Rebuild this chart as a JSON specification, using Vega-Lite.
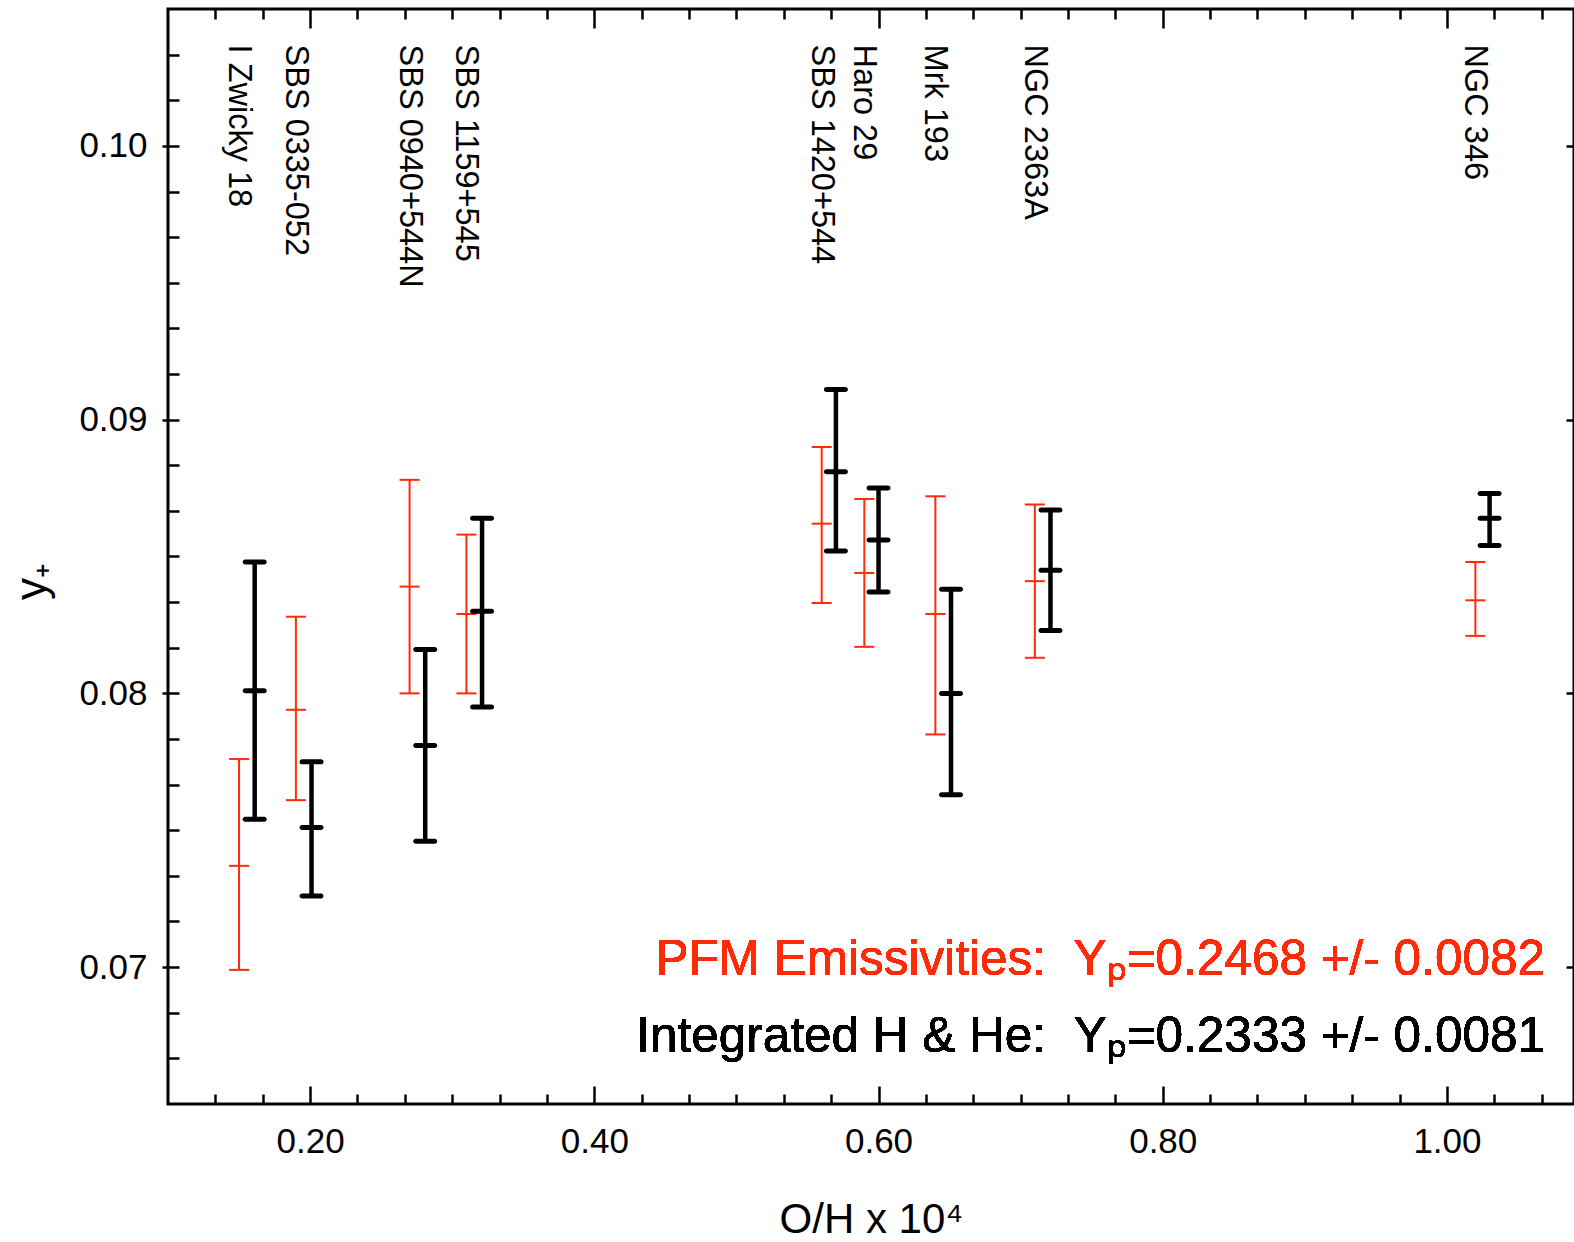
{
  "$schema": "https://vega.github.io/schema/vega-lite/v6.json",
  "width": 1406,
  "height": 1095,
  "autosize": {"type": "none"},
  "padding": {"left": 168, "top": 9, "right": 0, "bottom": 138},
  "background": "white",
  "config": {
    "font": "Liberation Sans",
    "view": {"stroke": "black", "strokeWidth": 3},
    "axis": {"grid": false, "domain": false, "labelColor": "black", "titleColor": "black", "tickColor": "black", "tickWidth": 2.5, "labelFont": "Liberation Sans", "titleFont": "Liberation Sans", "titleFontWeight": "normal", "labelFlush": false, "labelOverlap": false}
  },
  "datasets": {
    "pts": [
      {"galaxy": "I Zwicky 18", "method": "PFM", "x": 0.150, "y": 0.0737, "lo": 0.0699, "hi": 0.0776},
      {"galaxy": "I Zwicky 18", "method": "Integrated", "x": 0.161, "y": 0.0801, "lo": 0.0754, "hi": 0.0848},
      {"galaxy": "SBS 0335-052", "method": "PFM", "x": 0.190, "y": 0.0794, "lo": 0.0761, "hi": 0.0828},
      {"galaxy": "SBS 0335-052", "method": "Integrated", "x": 0.201, "y": 0.0751, "lo": 0.0726, "hi": 0.0775},
      {"galaxy": "SBS 0940+544N", "method": "PFM", "x": 0.270, "y": 0.0839, "lo": 0.0800, "hi": 0.0878},
      {"galaxy": "SBS 0940+544N", "method": "Integrated", "x": 0.281, "y": 0.0781, "lo": 0.0746, "hi": 0.0816},
      {"galaxy": "SBS 1159+545", "method": "PFM", "x": 0.310, "y": 0.0829, "lo": 0.0800, "hi": 0.0858},
      {"galaxy": "SBS 1159+545", "method": "Integrated", "x": 0.321, "y": 0.0830, "lo": 0.0795, "hi": 0.0864},
      {"galaxy": "SBS 1420+544", "method": "PFM", "x": 0.560, "y": 0.0862, "lo": 0.0833, "hi": 0.0890},
      {"galaxy": "SBS 1420+544", "method": "Integrated", "x": 0.570, "y": 0.0881, "lo": 0.0852, "hi": 0.0911},
      {"galaxy": "Haro 29", "method": "PFM", "x": 0.590, "y": 0.0844, "lo": 0.0817, "hi": 0.0871},
      {"galaxy": "Haro 29", "method": "Integrated", "x": 0.600, "y": 0.0856, "lo": 0.0837, "hi": 0.0875},
      {"galaxy": "Mrk 193", "method": "PFM", "x": 0.640, "y": 0.0829, "lo": 0.0785, "hi": 0.0872},
      {"galaxy": "Mrk 193", "method": "Integrated", "x": 0.651, "y": 0.0800, "lo": 0.0763, "hi": 0.0838},
      {"galaxy": "NGC 2363A", "method": "PFM", "x": 0.710, "y": 0.0841, "lo": 0.0813, "hi": 0.0869},
      {"galaxy": "NGC 2363A", "method": "Integrated", "x": 0.721, "y": 0.0845, "lo": 0.0823, "hi": 0.0867},
      {"galaxy": "NGC 346", "method": "PFM", "x": 1.020, "y": 0.0834, "lo": 0.0821, "hi": 0.0848},
      {"galaxy": "NGC 346", "method": "Integrated", "x": 1.030, "y": 0.0864, "lo": 0.0854, "hi": 0.0873}
    ]
  },
  "data": {"name": "pts"},
  "layer": [
    {
      "transform": [{"filter": "datum.method === 'PFM'"}],
      "mark": {"type": "rule", "color": "#ff2a08", "strokeWidth": 2},
      "encoding": {
        "x": {"field": "x", "type": "quantitative", "scale": {"domain": [0.1, 1.0894], "nice": false, "zero": false},
          "axis": {"orient": "bottom", "values": [0.2, 0.4, 0.6, 0.8, 1.0], "format": ".2f", "tickSize": -18, "labelFontSize": 35, "labelPadding": 38, "title": "O/H x 10⁴", "titleFontSize": 42, "titlePadding": 40}},
        "y": {"field": "lo", "type": "quantitative", "scale": {"domain": [0.065, 0.105], "nice": false, "zero": false},
          "axis": {"orient": "left", "values": [0.07, 0.08, 0.09, 0.10], "format": ".2f", "tickSize": -11, "labelFontSize": 35, "labelPadding": 32, "title": "y₊", "titleFontSize": 44, "titlePadding": 24, "titleY": 572}},
        "y2": {"field": "hi"}
      }
    },
    {
      "transform": [{"filter": "datum.method === 'PFM'"}, {"fold": ["lo", "hi", "y"], "as": ["k", "v"]}],
      "mark": {"type": "tick", "orient": "horizontal", "color": "#ff2a08", "opacity": 1, "thickness": 2, "size": 20},
      "encoding": {
        "x": {"field": "x", "type": "quantitative", "scale": {"domain": [0.1, 1.0894], "nice": false, "zero": false},
          "axis": {"orient": "bottom", "values": [0.13333, 0.16667, 0.23333, 0.26667, 0.3, 0.33333, 0.36667, 0.43333, 0.46667, 0.5, 0.53333, 0.56667, 0.63333, 0.66667, 0.7, 0.73333, 0.76667, 0.83333, 0.86667, 0.9, 0.93333, 0.96667, 1.03333, 1.06667], "tickSize": -10, "labels": false, "title": null}},
        "y": {"field": "v", "type": "quantitative", "scale": {"domain": [0.065, 0.105], "nice": false, "zero": false},
          "axis": {"orient": "left", "values": [0.066667, 0.068333, 0.071667, 0.073333, 0.075, 0.076667, 0.078333, 0.081667, 0.083333, 0.085, 0.086667, 0.088333, 0.091667, 0.093333, 0.095, 0.096667, 0.098333, 0.101667, 0.103333], "tickSize": -11, "labels": false, "title": null}}
      }
    },
    {
      "transform": [{"filter": "datum.method === 'Integrated'"}],
      "mark": {"type": "rule", "color": "black", "strokeWidth": 4.5},
      "encoding": {
        "x": {"field": "x", "type": "quantitative", "scale": {"domain": [0.1, 1.0894], "nice": false, "zero": false},
          "axis": {"orient": "top", "values": [0.2, 0.4, 0.6, 0.8, 1.0], "tickSize": -19, "labels": false, "title": null}},
        "y": {"field": "lo", "type": "quantitative", "scale": {"domain": [0.065, 0.105], "nice": false, "zero": false},
          "axis": {"orient": "right", "values": [0.07, 0.08, 0.09, 0.10], "tickSize": -8, "labels": false, "title": null}},
        "y2": {"field": "hi"}
      }
    },
    {
      "transform": [{"filter": "datum.method === 'Integrated'"}, {"fold": ["lo", "hi", "y"], "as": ["k", "v"]}],
      "mark": {"type": "tick", "orient": "horizontal", "color": "black", "opacity": 1, "thickness": 5, "size": 24, "cornerRadius": 2.5},
      "encoding": {
        "x": {"field": "x", "type": "quantitative", "scale": {"domain": [0.1, 1.0894], "nice": false, "zero": false},
          "axis": {"orient": "top", "values": [0.13333, 0.16667, 0.23333, 0.26667, 0.3, 0.33333, 0.36667, 0.43333, 0.46667, 0.5, 0.53333, 0.56667, 0.63333, 0.66667, 0.7, 0.73333, 0.76667, 0.83333, 0.86667, 0.9, 0.93333, 0.96667, 1.03333, 1.06667], "tickSize": -10, "labels": false, "title": null}},
        "y": {"field": "v", "type": "quantitative", "scale": {"domain": [0.065, 0.105], "nice": false, "zero": false},
          "axis": {"orient": "left", "values": [0.07, 0.08, 0.09, 0.10], "tickSize": 6, "labels": false, "title": null}}
      }
    },
    {
      "transform": [{"filter": "datum.method === 'PFM'"}],
      "mark": {"type": "text", "angle": 90, "align": "left", "baseline": "middle", "fontSize": 32.5, "color": "black", "font": "Liberation Sans"},
      "encoding": {
        "x": {"field": "x", "type": "quantitative", "scale": {"domain": [0.1, 1.0894], "nice": false, "zero": false}, "axis": null},
        "y": {"datum": 0.1037, "type": "quantitative", "scale": {"domain": [0.065, 0.105], "nice": false, "zero": false}, "axis": null},
        "text": {"field": "galaxy", "type": "nominal"}
      }
    },
    {
      "mark": {"type": "text", "text": "PFM Emissivities:\u00a0\u00a0Yₚ=0.2468 +/- 0.0082", "align": "right", "baseline": "alphabetic", "fontSize": 49.5, "color": "#ff2a08", "font": "Liberation Sans"},
      "encoding": {
        "x": {"datum": 1.069, "type": "quantitative", "scale": {"domain": [0.1, 1.0894], "nice": false, "zero": false}, "axis": null},
        "y": {"datum": 0.0697, "type": "quantitative", "scale": {"domain": [0.065, 0.105], "nice": false, "zero": false}, "axis": null}
      }
    },
    {
      "mark": {"type": "text", "text": "Integrated H & He:\u00a0\u00a0Yₚ=0.2333 +/- 0.0081", "align": "right", "baseline": "alphabetic", "fontSize": 49.5, "color": "black", "font": "Liberation Sans"},
      "encoding": {
        "x": {"datum": 1.069, "type": "quantitative", "scale": {"domain": [0.1, 1.0894], "nice": false, "zero": false}, "axis": null},
        "y": {"datum": 0.0669, "type": "quantitative", "scale": {"domain": [0.065, 0.105], "nice": false, "zero": false}, "axis": null}
      }
    }
  ],
  "resolve": {"axis": {"x": "independent", "y": "independent"}}
}
